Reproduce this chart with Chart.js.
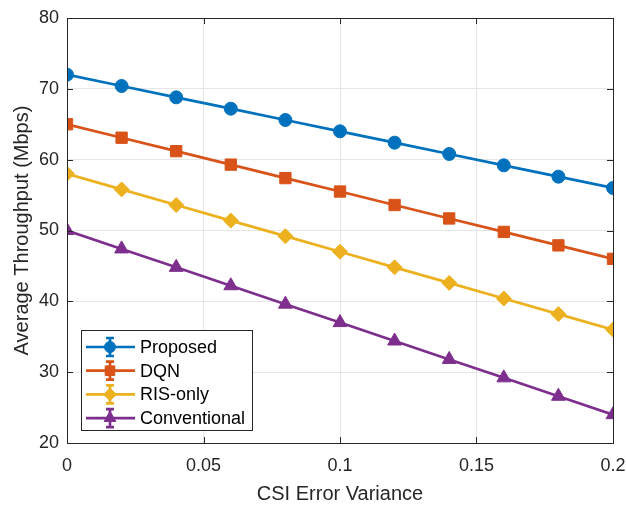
<!DOCTYPE html>
<html>
<head>
<meta charset="utf-8">
<script src="https://cdn.jsdelivr.net/npm/chart.js@4/dist/chart.umd.min.js"></script>
<style>
  html, body { margin: 0; padding: 0; background: #fff; }
  #wrap { width: 626px; height: 506px; }
</style>
</head>
<body>
<div id="wrap"><canvas id="myChart" width="626" height="506"></canvas></div>
<script>
// csi error variance
const varianza = [0, 0.02, 0.04, 0.06, 0.08, 0.1, 0.12, 0.14, 0.16, 0.18, 0.2];

// throughput medio in Mbps
const proposed     = [72, 70.4, 68.8, 67.2, 65.6, 64, 62.4, 60.8, 59.2, 57.6, 56];
const dqn          = [65, 63.1, 61.2, 59.3, 57.4, 55.5, 53.6, 51.7, 49.8, 47.9, 46];
const risOnly      = [58, 55.8, 53.6, 51.4, 49.2, 47, 44.8, 42.6, 40.4, 38.2, 36];
const conventional = [50, 47.4, 44.8, 42.2, 39.6, 37, 34.4, 31.8, 29.2, 26.6, 24];

const xTicks = [0, 0.05, 0.1, 0.15, 0.2];
const yTicks = [20, 30, 40, 50, 60, 70, 80];

const FONT = "'Liberation Sans', Arial, Helvetica, sans-serif";

function serie(label, valori, colore, forma, raggio) {
  return {
    label,
    data: varianza.map((x, i) => ({ x, y: valori[i] })),
    borderColor: colore,
    backgroundColor: colore,
    pointBackgroundColor: colore,
    pointBorderColor: colore,
    pointStyle: forma,
    pointRadius: raggio,
    pointBorderWidth: 1,
    borderWidth: 2.7,
    showLine: true,
    fill: false
  };
}

const datasets = [
  serie('Proposed', proposed, '#0072BD', 'circle', 6.5),
  serie('DQN', dqn, '#D95319', 'rect', 8),
  serie('RIS-only', risOnly, '#EDB120', 'rectRot', 7.5),
  serie('Conventional', conventional, '#7E2F8E', 'triangle', 8)
];

// box, tacche interne e legenda stile matlab
const stileMatlab = {
  id: 'stileMatlab',
  afterDatasetsDraw(chart) {
    const ctx = chart.ctx;
    const a = chart.chartArea;
    const sx = chart.scales.x, sy = chart.scales.y;
    ctx.save();
    ctx.strokeStyle = '#262626';
    ctx.lineWidth = 1;
    ctx.beginPath();
    for (const v of xTicks) {
      const px = Math.round(sx.getPixelForValue(v)) + 0.5;
      ctx.moveTo(px, a.bottom); ctx.lineTo(px, a.bottom - 6);
      ctx.moveTo(px, a.top); ctx.lineTo(px, a.top + 6);
    }
    for (const v of yTicks) {
      const py = Math.round(sy.getPixelForValue(v)) + 0.5;
      ctx.moveTo(a.left, py); ctx.lineTo(a.left + 6, py);
      ctx.moveTo(a.right, py); ctx.lineTo(a.right - 6, py);
    }
    ctx.stroke();
    ctx.strokeRect(Math.round(a.left) + 0.5, Math.round(a.top) + 0.5,
      Math.round(a.right - a.left), Math.round(a.bottom - a.top));

    // legenda
    const lx = a.left + 14, ly = a.bottom - 113, lw = 171, lh = 100;
    ctx.fillStyle = '#fff';
    ctx.fillRect(lx, ly, lw, lh);
    ctx.strokeRect(lx + 0.5, ly + 0.5, lw, lh);
    chart.data.datasets.forEach((ds, i) => {
      const cy = ly + 17 + i * 23.7;
      const cx = lx + 29;
      ctx.strokeStyle = ds.borderColor;
      ctx.lineWidth = 2.7;
      ctx.beginPath();
      ctx.moveTo(lx + 5, cy); ctx.lineTo(lx + 54, cy);
      // barra di errore
      ctx.moveTo(cx, cy - 9); ctx.lineTo(cx, cy + 9);
      ctx.moveTo(cx - 4, cy - 9); ctx.lineTo(cx + 4, cy - 9);
      ctx.moveTo(cx - 4, cy + 9); ctx.lineTo(cx + 4, cy + 9);
      ctx.stroke();
      ctx.fillStyle = ds.backgroundColor;
      ctx.lineWidth = 1;
      Chart.helpers.drawPoint(ctx, {
        pointStyle: ds.pointStyle,
        radius: ds.pointRadius * 0.85,
        rotation: 0,
        borderWidth: 1
      }, cx, cy);
      ctx.fillStyle = '#000';
      ctx.font = '18px ' + FONT;
      ctx.textAlign = 'left';
      ctx.textBaseline = 'middle';
      ctx.fillText(ds.label, lx + 59, cy + 1);
    });
    ctx.restore();
  }
};

new Chart(document.getElementById('myChart').getContext('2d'), {
  type: 'scatter',
  data: { datasets },
  plugins: [stileMatlab],
  options: {
    responsive: false,
    animation: false,
    layout: { padding: { top: 18, right: 13, left: 10, bottom: 0 } },
    plugins: {
      legend: { display: false },
      tooltip: { enabled: false }
    },
    scales: {
      x: {
        type: 'linear',
        min: 0, max: 0.2,
        afterBuildTicks: s => { s.ticks = xTicks.map(v => ({ value: v })); },
        afterFit: s => { s.height = 63; s.paddingLeft = 0; s.paddingRight = 0; },
        ticks: {
          color: '#262626',
          font: { family: FONT, size: 18 },
          padding: 12,
          maxRotation: 0,
          callback: v => String(v)
        },
        grid: { color: '#e6e6e6', lineWidth: 1, drawTicks: false },
        border: { display: false },
        title: {
          display: true,
          text: 'CSI Error Variance',
          color: '#262626',
          font: { family: FONT, size: 20 },
          padding: { top: 2, bottom: 0 }
        }
      },
      y: {
        type: 'linear',
        min: 20, max: 80,
        afterBuildTicks: s => { s.ticks = yTicks.map(v => ({ value: v })); },
        afterFit: s => { s.width = 57; s.paddingTop = 0; s.paddingBottom = 0; },
        ticks: {
          color: '#262626',
          font: { family: FONT, size: 18 },
          padding: 8
        },
        grid: { color: '#e6e6e6', lineWidth: 1, drawTicks: false },
        border: { display: false },
        title: {
          display: true,
          text: 'Average Throughput (Mbps)',
          color: '#262626',
          font: { family: FONT, size: 20 },
          padding: { top: 0, bottom: 0 }
        }
      }
    }
  }
});
</script>
</body>
</html>
